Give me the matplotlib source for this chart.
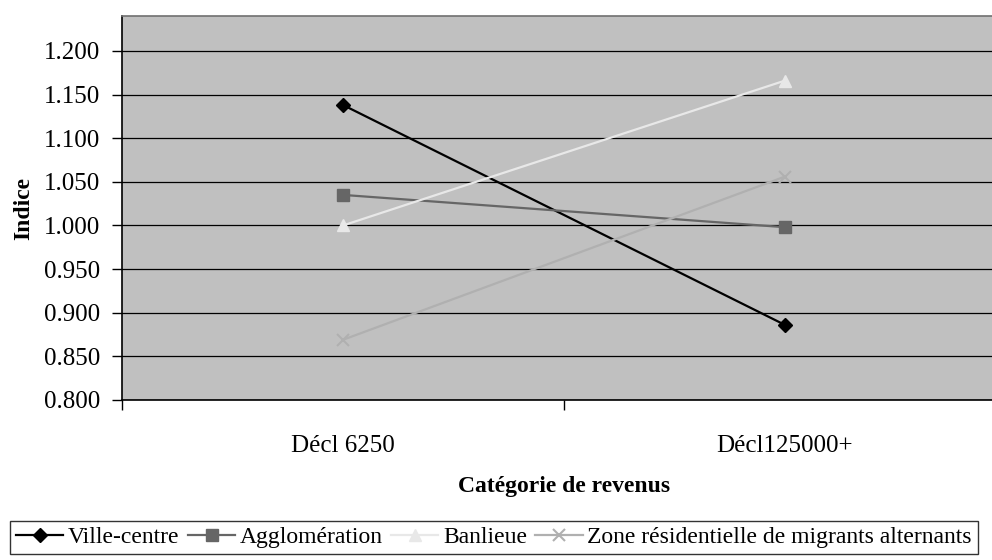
import matplotlib
matplotlib.use("Agg")
import matplotlib.pyplot as plt
from matplotlib.ticker import FixedLocator, FuncFormatter

plt.rcParams["font.family"] = ["Liberation Serif", "DejaVu Serif"]

categories = ["Décl 6250", "Décl125000+"]
ville_centre = [1.138, 0.886]
agglomeration = [1.035, 0.998]
banlieue = [1.000, 1.166]
zone_migrants = [0.869, 1.056]

series = [
    ("Ville-centre", ville_centre, "#000000", "D", 7),
    ("Agglomération", agglomeration, "#666666", "s", 8),
    ("Banlieue", banlieue, "#e8e8e8", "^", 8),
    ("Zone résidentielle de migrants alternants", zone_migrants, "#b0b0b0", "x", 8),
]

fig = plt.figure(figsize=(9.92, 5.6), dpi=100)
ax = fig.add_axes([122 / 992, 160 / 560, 884 / 992, 384 / 560])
ax.set_facecolor("#c0c0c0")

x = range(len(categories))
for name, vals, col, mk, ms in series:
    ax.plot(x, vals, color=col, lw=1.6, marker=mk, ms=ms, mfc=col, mec=col,
            mew=1.5 if mk == "x" else 1, label=name, zorder=3)

ax.set_xlim(-0.5, 1.5)
ax.set_ylim(0.8, 1.24)
yt = [0.8 + 0.05 * i for i in range(9)]
ax.yaxis.set_major_locator(FixedLocator(yt))
ax.yaxis.set_major_formatter(FuncFormatter(lambda v, p: f"{v:.3f}"))
ax.grid(axis="y", color="#000000", lw=0.9, zorder=1)
ax.set_axisbelow(True)

ax.set_xticks(list(x))
ax.set_xticklabels(categories)
ax.xaxis.set_minor_locator(FixedLocator([-0.5, 0.5, 1.5]))
ax.tick_params(axis="x", which="major", length=0, pad=25, labelsize=18)
ax.tick_params(axis="x", which="minor", length=7, width=1, direction="out")
ax.tick_params(axis="y", length=7, width=1, direction="out", pad=9, labelsize=18)

for s in ["left", "bottom"]:
    ax.spines[s].set_color("#000000")
    ax.spines[s].set_linewidth(1.2)
for s in ["top", "right"]:
    ax.spines[s].set_color("#707070")
    ax.spines[s].set_linewidth(1.2)

ax.set_ylabel("Indice", fontsize=17, fontweight="bold", labelpad=7)
ax.set_xlabel("Catégorie de revenus", fontsize=17, fontweight="bold", labelpad=14)

leg = fig.legend(loc="lower center", bbox_to_anchor=(494 / 992, 6 / 560),
                 ncol=4, fontsize=17, frameon=True, fancybox=False,
                 handlelength=2.0, handletextpad=0.2, columnspacing=0.35,
                 borderpad=0.25, borderaxespad=0)
leg.get_frame().set_edgecolor("#000000")
leg.get_frame().set_linewidth(1.0)

fig.savefig("out.png", dpi=100)
